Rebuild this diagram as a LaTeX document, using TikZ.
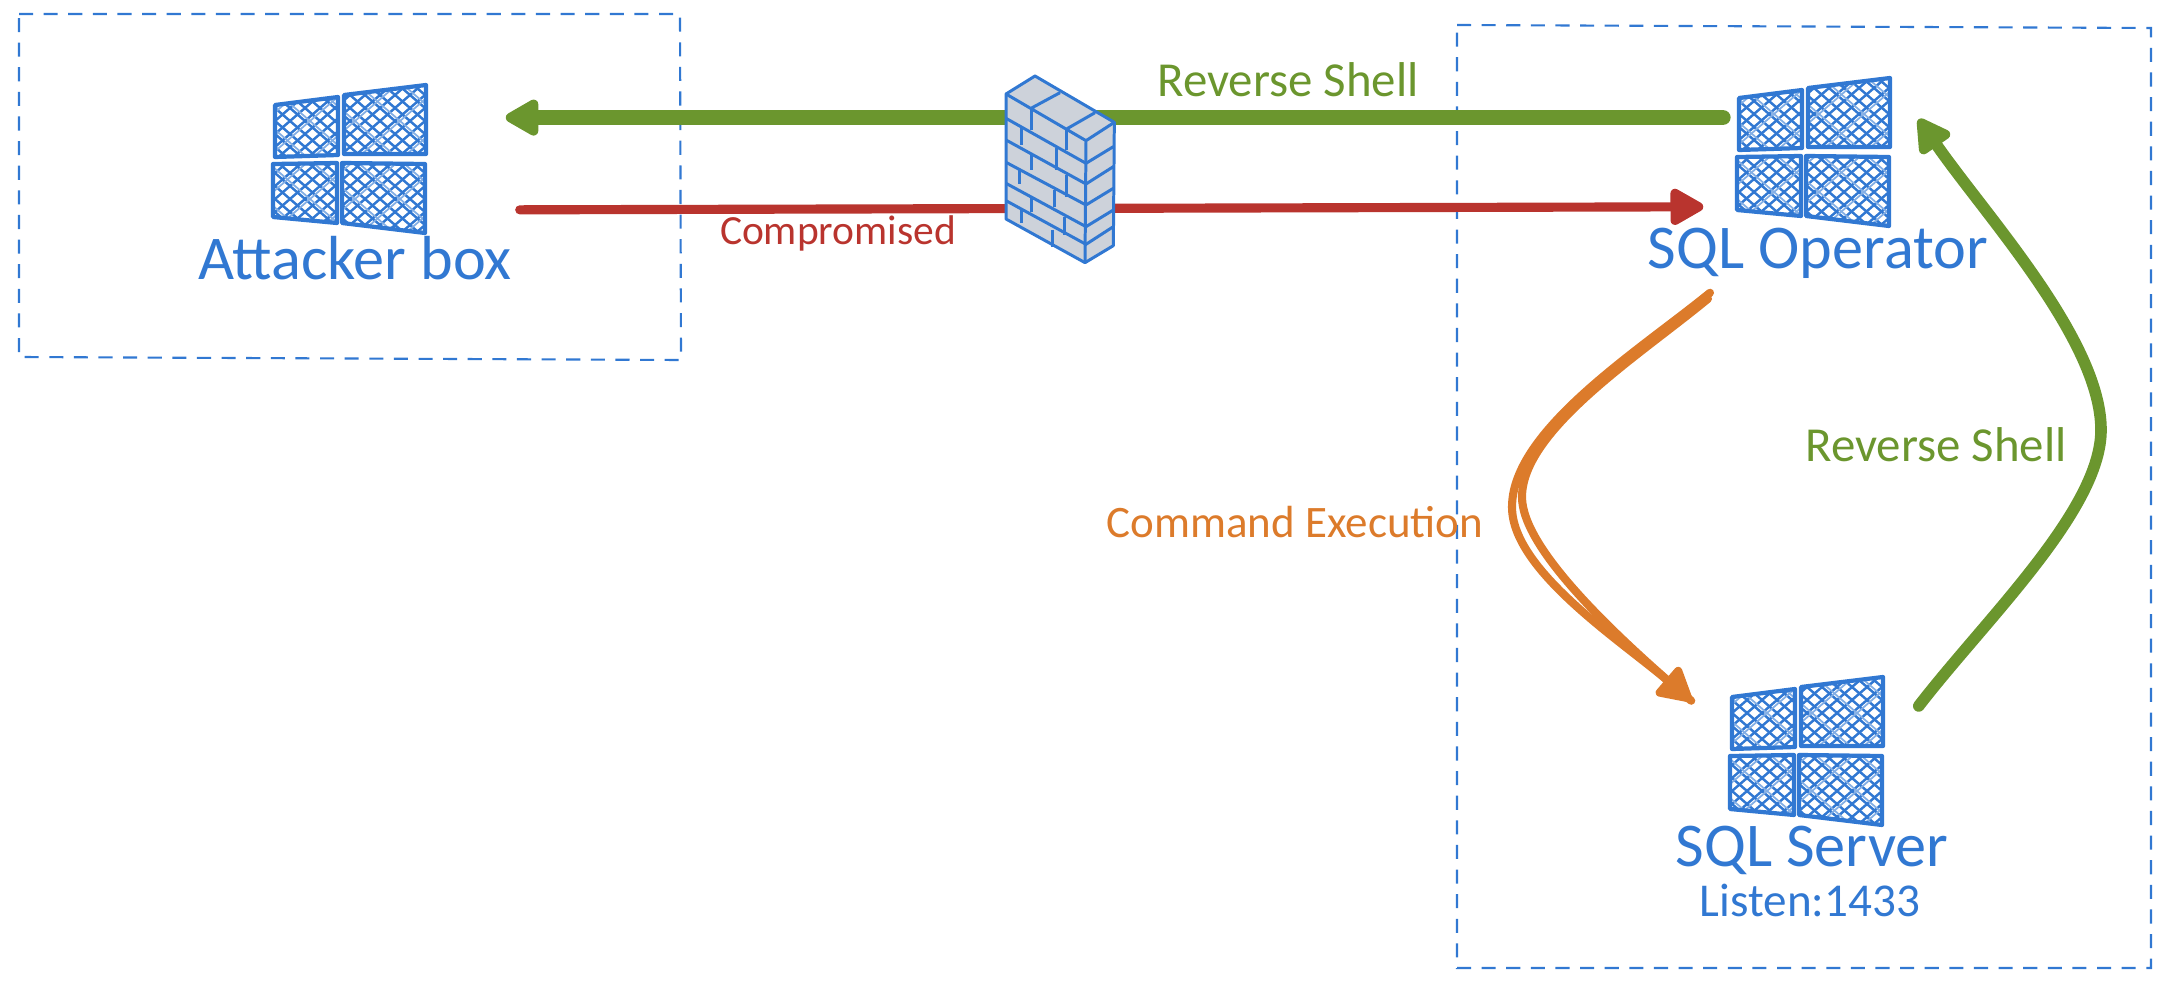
\documentclass[tikz,border=0pt]{standalone}
\usepackage{fontspec}
\setmainfont{Carlito}
\usetikzlibrary{calc}
\usetikzlibrary{arrows.meta}
\definecolor{sketchblue}{HTML}{3178D2}
\definecolor{sketchgreen}{HTML}{6B962E}
\definecolor{sketchred}{HTML}{B9342E}
\definecolor{sketchorange}{HTML}{DC7B2B}
\definecolor{wallgray}{HTML}{CDD2DA}
\newcommand{\winpane}[4]{
 \begin{scope}
 \clip #1 -- #2 -- #3 -- #4 -- cycle;
 \foreach \i in {-14,-13,...,14} {
  \draw[sketchblue, line width=.7pt] (\i*15-150,-130) --++(300,260);
  \draw[sketchblue, line width=.7pt] (\i*15+150,-130) --++(-300,260);
 }
 \foreach \i in {-6,-5,...,6} {
  \draw[sketchblue!60, line width=.5pt] (\i*45-145,-130) --++(300,260);
  \draw[sketchblue!60, line width=.5pt] (\i*45+155,-130) --++(-300,260);
 }
 \end{scope}
 \draw[sketchblue, line width=1.2pt, line join=round] #1 -- #2 -- #3 -- #4 -- cycle;
}
\tikzset{
 logobox/.style={minimum width=1.58cm, minimum height=1.52cm, inner sep=0},
 dashbox/.style={sketchblue, line width=.6pt, dash pattern=on 4pt off 3pt},
 bluetext/.style={text=sketchblue, inner sep=0},
 wire/.style={line cap=round, line join=round, -{Stealth[length=.38cm, width=.4cm, inset=0pt, round]}},
 winlogo/.pic={
  \winpane{(-75,-55)}{(-12,-63)}{(-12,-5)}{(-75,-3)}
  \winpane{(-6,-65)}{(76,-75)}{(76,-6)}{(-6,-6)}
  \winpane{(-77,4)}{(-13,3)}{(-13,63)}{(-77,57)}
  \winpane{(-8,3)}{(75,4)}{(75,73)}{(-8,63)}
 },
 firewall/.pic={
  \filldraw[sketchblue, fill=wallgray, line width=.85pt, line join=round]
   (138,132)--(225,78)--(463,217)--(460,587)--(375,638)--(138,507)--cycle;
  \draw[sketchblue, line width=.85pt]
   (138,132)--(378,272)--(463,217) (378,272)--(375,638)
   (213,175)--(300,128) (318,238)--(405,188);
  % courses of bricks
  \foreach \a/\b/\c in {205/340/290, 270/402/350, 337/465/415, 400/530/480, 452/583/530} {
   \draw[sketchblue, line width=.85pt] (138,\a)--(378,\b)--(460,\c);
  }
  \foreach \x/\p/\q in {213/175/240, 318/235/300, 183/228/285, 288/295/360, 213/315/360, 178/360/402, 318/375/440, 283/420/470, 215/440/485, 183/475/520, 313/500/555, 278/540/590} {
   \draw[sketchblue, line width=.85pt] (\x,\p)--(\x,\q);
  }
 }
}

\begin{document}
\begin{tikzpicture}[x=.01cm, y=-.01cm]
\useasboundingbox (0,0) rectangle (2172,994);

\draw[dashbox] (19,14)--(680,14)--(681,360)--(19,357)--cycle;
\draw[dashbox] (1457,25)--(2151,28)--(2151,968)--(1457,968)--cycle;

\node[logobox] (attackerLogo) at (350,160) {};
\node[logobox] (operatorLogo) at (1814,153) {};
\node[logobox] (serverLogo) at (1807,752) {};
\pic at (attackerLogo) {winlogo};
\pic at (operatorLogo) {winlogo};
\pic at (serverLogo) {winlogo};

\node[bluetext, font=\fontsize{17.7}{21}\selectfont] (attackerLabel) at (355,258) {Attacker box};
\node[bluetext, font=\fontsize{17.7}{21}\selectfont] (operatorLabel) at (1818,253) {SQL Operator};
\node[bluetext, font=\fontsize{17.7}{21}\selectfont] (serverLabel) at (1812,850) {SQL Server};
\node[bluetext, font=\fontsize{13.4}{16}\selectfont] (listenLabel) at (1810,900) {Listen:1433};

\draw[wire, sketchgreen, line width=4.2pt] ([shift={(-11,0)}]operatorLogo.156.1) -- ([shift={(76,0)}]attackerLogo.28);
\draw[wire, sketchred, line width=2.6pt] ([shift={(90,0)}]attackerLogo.-32.8) -- ([shift={(-31,0)}]operatorLogo.214.8);
\draw[wire, sketchgreen, line width=3.3pt] ([shift={(32,0)}]serverLogo.30.2) .. controls (1985,620) and (2101,510) .. (2101,430) .. controls (2101,340) and (1985,215) .. ([shift={(25,0)}]operatorLogo.23.9);
% two strokes, they part near the bend
\draw[wire, sketchorange, line width=2.3pt] ([shift={(-104,63)}]operatorLogo.south) .. controls (1640,350) and (1512,430) .. (1512,507) .. controls (1512,570) and (1620,640) .. ([shift={(-36,-7)}]serverLogo.151.4);
\draw[sketchorange, line width=2.3pt, line cap=round] ([shift={(-106,69)}]operatorLogo.south) .. controls (1640,355) and (1522,430) .. (1522,497) .. controls (1522,550) and (1620,640) .. ([shift={(-36,-7)}]serverLogo.151.4);

\pic[shift={(960,50)}, scale=1/3] at (0,0) {firewall};

\node[text=sketchgreen, inner sep=0, font=\fontsize{13.9}{17}\selectfont] (shellTop) at (1288,80) {Reverse Shell};
\node[text=sketchred, inner sep=0, font=\fontsize{11.8}{14}\selectfont] (compromised) at (838,233) {Compromised};
\node[text=sketchorange, inner sep=0, font=\fontsize{12.8}{15}\selectfont] (command) at (1295,522) {Command Execution};
\node[text=sketchgreen, inner sep=0, font=\fontsize{13.9}{17}\selectfont] (shellRight) at (1936,445) {Reverse Shell};
\end{tikzpicture}
\end{document}
